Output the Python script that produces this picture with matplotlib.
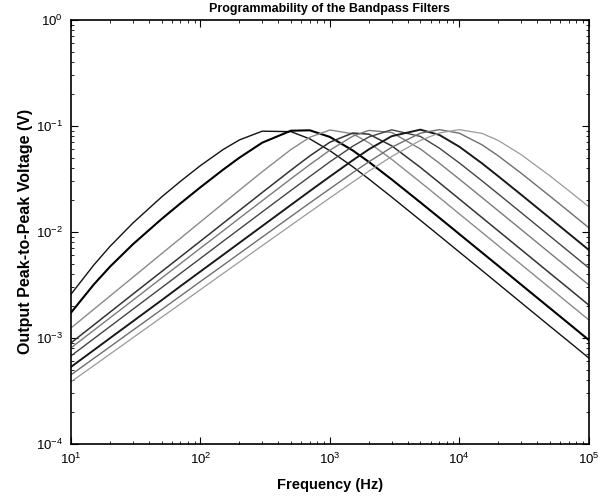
import matplotlib
matplotlib.use("Agg")
import matplotlib.pyplot as plt
from matplotlib.ticker import LogLocator, NullFormatter

# measurement frequencies (Hz)
freq = [10, 15, 20, 30, 50, 70, 100, 150, 200, 300, 500, 700, 1000,
        1500, 2000, 3000, 5000, 7000, 10000, 15000, 20000, 30000, 50000, 70000, 100000]

# output peak-to-peak voltage (V), one list per filter setting
v1 = [2.58e-3, 4.87e-3, 7.29e-3, 0.01208, 0.0213, 0.02995, 0.0422, 0.0599, 0.0737, 0.0891, 0.0882, 0.0753, 0.0583,
      0.0412, 0.0315, 0.0213, 0.01286, 9.21e-3, 6.45e-3, 4.31e-3, 3.23e-3, 2.15e-3, 1.29e-3, 9.23e-4, 6.46e-4]
v2 = [1.73e-3, 3.19e-3, 4.69e-3, 7.62e-3, 0.0132, 0.01855, 0.02636, 0.0387, 0.0501, 0.0694, 0.090, 0.0908, 0.0786,
      0.0587, 0.0457, 0.03124, 0.01897, 0.0136, 9.53e-3, 6.36e-3, 4.78e-3, 3.18e-3, 1.91e-3, 1.365e-3, 9.55e-4]
v3 = [1.24e-3, 1.86e-3, 2.48e-3, 3.72e-3, 6.21e-3, 8.69e-3, 0.01241, 0.01859, 0.02474, 0.0369, 0.0598, 0.0781, 0.0914,
      0.0843, 0.0693, 0.0484, 0.02943, 0.0211, 0.01477, 9.86e-3, 7.40e-3, 4.93e-3, 2.96e-3, 2.11e-3, 1.48e-3]
v4 = [8.97e-4, 1.324e-3, 1.746e-3, 2.58e-3, 4.21e-3, 5.81e-3, 8.18e-3, 0.01208, 0.01592, 0.0235, 0.0382, 0.0521, 0.0701,
      0.0856, 0.0835, 0.0649, 0.0406, 0.0291, 0.02041, 0.01361, 0.01021, 6.81e-3, 4.08e-3, 2.92e-3, 2.04e-3]
v5 = [8.05e-4, 1.178e-3, 1.545e-3, 2.26e-3, 3.66e-3, 5.01e-3, 7.02e-3, 0.01025, 0.01345, 0.01965, 0.03166, 0.0431, 0.0590,
      0.0798, 0.0906, 0.0867, 0.0606, 0.0445, 0.03144, 0.02104, 0.01579, 0.01054, 6.32e-3, 4.52e-3, 3.16e-3]
v6 = [6.76e-4, 9.82e-4, 1.279e-3, 1.858e-3, 2.97e-3, 4.05e-3, 5.62e-3, 8.17e-3, 0.01063, 0.01543, 0.02459, 0.0333, 0.0458,
      0.0642, 0.0786, 0.0918, 0.0795, 0.0617, 0.0447, 0.03023, 0.02276, 0.01521, 9.14e-3, 6.53e-3, 4.57e-3]
v7 = [5.32e-4, 7.66e-4, 9.93e-4, 1.429e-3, 2.26e-3, 3.07e-3, 4.23e-3, 6.08e-3, 7.88e-3, 0.01134, 0.01795, 0.02427, 0.03326,
      0.0473, 0.06006, 0.0799, 0.0921, 0.0822, 0.0636, 0.0442, 0.03346, 0.02245, 0.01350, 9.65e-3, 6.76e-3]
v8 = [4.48e-4, 6.40e-4, 8.24e-4, 1.178e-3, 1.845e-3, 2.48e-3, 3.40e-3, 4.85e-3, 6.25e-3, 8.93e-3, 0.01396, 0.01875, 0.02551,
      0.0361, 0.0458, 0.0628, 0.0853, 0.0921, 0.0853, 0.0662, 0.0521, 0.0358, 0.02177, 0.0156, 0.01094]
v9 = [3.85e-4, 5.47e-4, 7.03e-4, 1.0e-3, 1.56e-3, 2.09e-3, 2.85e-3, 4.06e-3, 5.21e-3, 7.41e-3, 0.01152, 0.0154, 0.02092,
      0.02946, 0.03739, 0.0514, 0.0729, 0.0857, 0.0921, 0.0849, 0.0728, 0.0536, 0.03381, 0.0245, 0.01726]

curves = [v1, v2, v3, v4, v5, v6, v7, v8, v9]
colors = ["#111111", "#000000", "#8a8a8a", "#333333", "#7a7a7a",
          "#444444", "#1a1a1a", "#6e6e6e", "#9a9a9a"]
widths = [1.0, 1.5, 1.0, 1.1, 1.0, 1.0, 1.4, 1.0, 0.9]

plt.rcParams["font.family"] = ["Liberation Sans", "DejaVu Sans"]

fig = plt.figure(figsize=(6.02, 4.97), dpi=100)
ax = fig.add_axes([0.118, 0.107, 0.860, 0.853])

for v, c, w in zip(curves, colors, widths):
    ax.plot(freq, v, color=c, linewidth=w)

ax.set_xscale("log")
ax.set_yscale("log")
ax.set_xlim(10, 1e5)
ax.set_ylim(1e-4, 1e0)

ax.xaxis.set_major_locator(LogLocator(base=10, numticks=10))
ax.yaxis.set_major_locator(LogLocator(base=10, numticks=10))
ax.xaxis.set_minor_locator(LogLocator(base=10, subs=range(2, 10), numticks=50))
ax.yaxis.set_minor_locator(LogLocator(base=10, subs=range(2, 10), numticks=50))
ax.xaxis.set_minor_formatter(NullFormatter())
ax.yaxis.set_minor_formatter(NullFormatter())

ax.tick_params(which="both", direction="in", top=True, right=True, labelsize=9.5, pad=6)
ax.tick_params(which="major", length=5)
ax.tick_params(which="minor", length=2.5)
for s in ax.spines.values():
    s.set_linewidth(1.2)

ax.set_title("Programmability of the Bandpass Filters", fontsize=9, fontweight="bold", pad=6)
ax.set_xlabel("Frequency (Hz)", fontsize=10.5, fontweight="bold", labelpad=8)
ax.set_ylabel("Output Peak-to-Peak Voltage (V)", fontsize=11.5, fontweight="bold", labelpad=2)

fig.savefig("out.png", dpi=100)
